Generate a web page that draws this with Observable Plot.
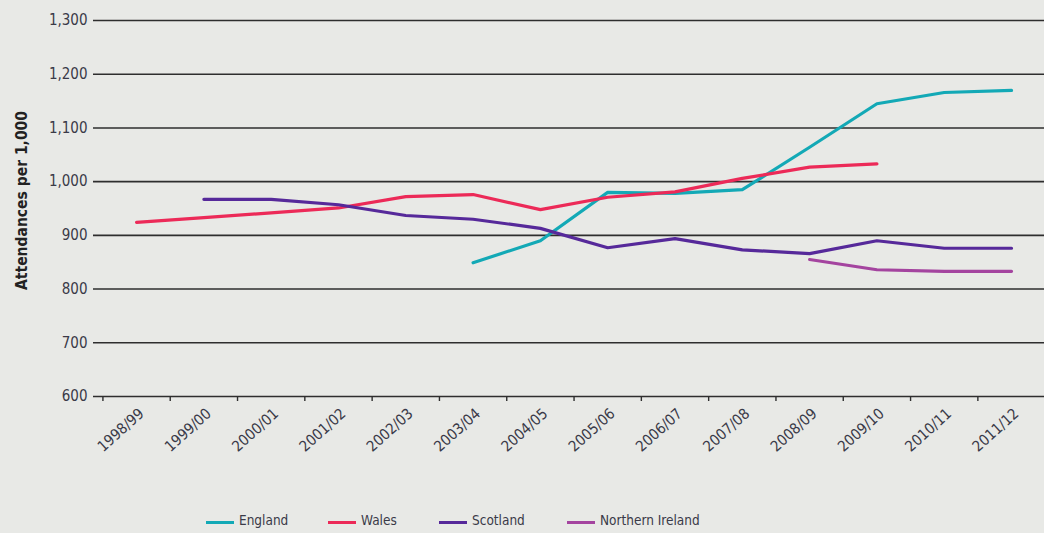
<!DOCTYPE html>
<html>
<head>
<meta charset="utf-8">
<script src="https://cdn.jsdelivr.net/npm/d3@7"></script>
<script src="https://cdn.jsdelivr.net/npm/@observablehq/plot@0.6"></script>
<style>
  html, body { margin: 0; padding: 0; background: #e8e9e6; }
  body { width: 1044px; height: 533px; overflow: hidden; font-family: "Liberation Sans Narrow", "DejaVu Sans Condensed", sans-serif; color: #3a3a48; }
  #legend { position: relative; height: 33px; font-size: 13.5px; }
  .item { position: absolute; top: 12px; display: flex; align-items: center; }
  .sw { width: 28px; height: 3px; margin-right: 5px; margin-top: 5px; }
</style>
</head>
<body>
<div id="chart"></div>
<div id="legend"></div>
<script>
const years = ["1998/99","1999/00","2000/01","2001/02","2002/03","2003/04","2004/05","2005/06","2006/07","2007/08","2008/09","2009/10","2010/11","2011/12"];
const seriesNames = ["England","Wales","Scotland","Northern Ireland"];
const seriesColors = ["#13a9b6","#ec2a58","#56299a","#a4449f"];
const england = [null,null,null,null,null,849,890,980,978,985,1064,1145,1166,1170];
const wales = [924,933,942,951,972,976,948,971,981,1006,1027,1033,null,null];
const scotland = [null,967,967,957,937,930,913,877,894,873,866,890,876,876];
const northernIreland = [null,null,null,null,null,null,null,null,null,null,855,836,833,833];
const yTicks = [600,700,800,900,1000,1100,1200,1300];
const yLabel = "Attendances per 1,000";

const seriesValues = [england, wales, scotland, northernIreland];
const rows = [];
seriesNames.forEach((name, s) => {
  seriesValues[s].forEach((v, i) => { if (v != null) rows.push({series: name, i, year: years[i], value: v}); });
});
const idx = years.map((_, i) => i);
const bounds = years.map((_, i) => i - 0.5);

const chart = Plot.plot({
  width: 1044,
  height: 500,
  marginTop: 20,
  marginBottom: 104,
  marginLeft: 93,
  marginRight: 0,
  style: {background: "#e8e9e6", color: "#3a3a48", fontFamily: "'Liberation Sans Narrow', 'DejaVu Sans Condensed', sans-serif", fontSize: "15px"},
  x: {type: "linear", domain: [-0.64, 13.49]},
  y: {domain: [600, 1300]},
  color: {domain: seriesNames, range: seriesColors},
  marks: [
    Plot.ruleY(yTicks, {stroke: "#2e2e2e", strokeWidth: 1.6}),
    Plot.axisY({ticks: yTicks, tickSize: 0, tickPadding: 6, tickFormat: d3.format(","), label: null, fontSize: 15}),
    Plot.axisX({ticks: bounds, tickSize: 5, tickFormat: () => "", label: null, stroke: "#2e2e2e", strokeWidth: 1.4}),
    Plot.axisX({ticks: idx, tickSize: 0, tickPadding: 15, dx: 5, tickRotate: -42, tickFormat: i => years[i], label: null, fontSize: 15}),
    Plot.lineY(rows, {x: "i", y: "value", z: "series", stroke: "series", strokeWidth: 3.2, strokeLinejoin: "round"}),
    Plot.text([yLabel], {frameAnchor: "left", textAnchor: "middle", dx: -71, dy: -8, rotate: -90, fontWeight: "bold", fontSize: 15.5, fill: "#222"})
  ]
});
document.getElementById("chart").appendChild(chart);

const legendPos = [206, 328, 439, 567];
const legend = document.getElementById("legend");
seriesNames.forEach((name, s) => {
  const item = document.createElement("div");
  item.className = "item";
  item.style.left = legendPos[s] + "px";
  item.innerHTML = `<span class="sw" style="background:${seriesColors[s]}"></span><span>${name}</span>`;
  legend.appendChild(item);
});
</script>
</body>
</html>
